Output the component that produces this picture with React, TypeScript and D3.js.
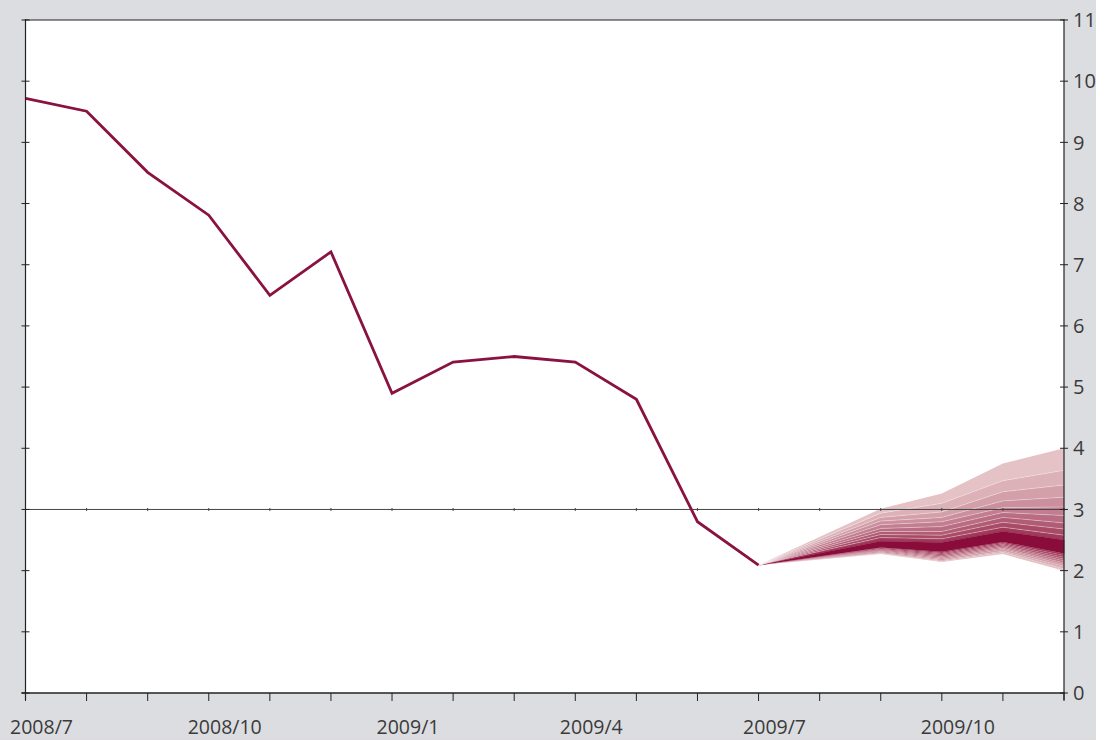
import React from "react";
import * as d3 from "d3";

const months = [
  "2008/7", "2008/8", "2008/9", "2008/10", "2008/11", "2008/12",
  "2009/1", "2009/2", "2009/3", "2009/4", "2009/5", "2009/6",
  "2009/7", "2009/8", "2009/9", "2009/10", "2009/11", "2009/12",
];
const labeledMonths = ["2008/7", "2008/10", "2009/1", "2009/4", "2009/7", "2009/10"];
const actual = [9.72, 9.51, 8.51, 7.81, 6.5, 7.21, 4.9, 5.41, 5.5, 5.41, 4.8, 2.8, 2.09];
const yTicks = [0, 1, 2, 3, 4, 5, 6, 7, 8, 9, 10, 11];

// Fan chart months and band boundaries (top edge -> dark band top)
const fanMonths = ["2009/7", "2009/9", "2009/10", "2009/11", "2009/12"];
const fanUpper = [
  [2.09, 2.09, 2.09, 2.09, 2.09, 2.09, 2.09, 2.09, 2.09, 2.09],
  [3.01, 2.94, 2.87, 2.81, 2.75, 2.69, 2.64, 2.59, 2.54, 2.48],
  [3.26, 3.1, 2.96, 2.87, 2.8, 2.72, 2.64, 2.58, 2.52, 2.46],
  [3.75, 3.47, 3.29, 3.14, 3.03, 2.95, 2.87, 2.79, 2.71, 2.64],
  [4.0, 3.64, 3.4, 3.2, 3.04, 2.9, 2.78, 2.68, 2.58, 2.5],
];
// dark band bottom -> bottom edge
const fanLower = [
  [2.09, 2.09, 2.09, 2.09, 2.09, 2.09, 2.09, 2.09, 2.09, 2.09],
  [2.38, 2.37, 2.355, 2.34, 2.33, 2.315, 2.3, 2.29, 2.28, 2.27],
  [2.31, 2.29, 2.27, 2.25, 2.23, 2.21, 2.19, 2.17, 2.155, 2.14],
  [2.47, 2.45, 2.43, 2.41, 2.39, 2.37, 2.35, 2.32, 2.3, 2.27],
  [2.28, 2.25, 2.22, 2.19, 2.16, 2.13, 2.1, 2.07, 2.03, 2.0],
];

const W = 1096;
const H = 740;
const left = 25.5;
const right = 1064;
const top = 20;
const bottom = 693;

export default function App() {
  const x = d3.scaleLinear().domain([0, months.length - 1]).range([left, right]);
  const y = d3.scaleLinear().domain([0, 11]).range([bottom, top]);
  const xi = (m: string) => x(months.indexOf(m));

  const line = d3
    .line<number>()
    .x((_, i) => x(i))
    .y((d) => y(d));

  const lightC = "#e4c2c5";
  const midC = "#a03a5a";
  const darkC = "#890c3a";
  const nUp = fanUpper[0].length - 1;
  const upColor = d3.scaleLinear<string>().domain([0, nUp - 1]).range([lightC, midC]).interpolate(d3.interpolateRgb);
  const nLo = fanLower[0].length - 1;
  const loColor = d3.scaleLinear<string>().domain([0, nLo - 1]).range([midC, lightC]).interpolate(d3.interpolateRgb);

  const area = (hi: number[], lo: number[]) =>
    d3
      .area<number>()
      .x((_, i) => xi(fanMonths[i]))
      .y0((_, i) => y(lo[i]))
      .y1((_, i) => y(hi[i]))(fanMonths.map((_, i) => i)) || "";

  const col = (arr: number[][], j: number) => arr.map((r) => r[j]);

  const bands: JSX.Element[] = [];
  for (let j = 0; j < nUp; j++) {
    bands.push(
      <path key={"u" + j} d={area(col(fanUpper, j), col(fanUpper, j + 1))} fill={upColor(j)} stroke="none" />
    );
  }
  bands.push(
    <path key="dark" d={area(col(fanUpper, nUp), col(fanLower, 0))} fill={darkC} stroke={darkC} strokeWidth={0.5} />
  );
  for (let j = 0; j < nLo; j++) {
    bands.push(
      <path key={"l" + j} d={area(col(fanLower, j), col(fanLower, j + 1))} fill={loColor(j)} stroke="none" />
    );
  }
  const sepLine = d3
    .line<number>()
    .x((_, i) => xi(fanMonths[i]))
    .y((d) => y(d));
  const seps: JSX.Element[] = [];
  for (let j = 1; j < nUp; j++) {
    seps.push(
      <path key={"s" + j} d={sepLine(col(fanUpper, j)) || ""} fill="none" stroke="#ffffff" strokeOpacity={0.4} strokeWidth={0.8} />
    );
  }

  const axisC = "#222";
  const textC = "#3a3a3a";
  const font = "'Open Sans', 'DejaVu Sans', sans-serif";

  return (
    <div style={{ position: "absolute", left: 0, top: 0 }}>
      <svg width={W} height={H} style={{ display: "block" }}>
        <rect x={0} y={0} width={W} height={H} fill="#dcdde0" />
        <rect x={left} y={top} width={right - left} height={bottom - top} fill="#ffffff" />

        {bands}
        {seps}

        {/* reference line at 3 */}
        <line x1={left} x2={right} y1={y(3)} y2={y(3)} stroke="#444" strokeWidth={1} />
        {months.map((m, i) => (
          <line key={"rt" + m} x1={x(i)} x2={x(i)} y1={y(3) - 1.5} y2={y(3) + 1.5} stroke="#444" strokeWidth={1} />
        ))}

        <path d={line(actual) || ""} fill="none" stroke="#8a1240" strokeWidth={2.8} strokeLinejoin="miter" />

        {/* frame */}
        <line x1={left} x2={right} y1={top} y2={top} stroke={axisC} strokeWidth={1.2} />
        <line x1={left} x2={left} y1={top - 1} y2={bottom + 7} stroke={axisC} strokeWidth={1.2} />
        <line x1={right} x2={right} y1={top - 1} y2={bottom + 7} stroke={axisC} strokeWidth={1.2} />
        <line x1={left - 4} x2={right + 1} y1={bottom} y2={bottom} stroke={axisC} strokeWidth={1.4} />

        {yTicks.map((t) => (
          <g key={"yt" + t}>
            <line x1={left - 4} x2={left + 4} y1={y(t)} y2={y(t)} stroke={axisC} strokeWidth={1} />
            <line x1={right - 4} x2={right + 4} y1={y(t)} y2={y(t)} stroke={axisC} strokeWidth={1} />
            <text x={right + 9} y={y(t)} dy="0.36em" fontFamily={font} fontSize={20} fill={textC}>
              {t}
            </text>
          </g>
        ))}

        {months.map((m, i) => (
          <line key={"xt" + m} x1={x(i)} x2={x(i)} y1={bottom} y2={bottom + 8} stroke={axisC} strokeWidth={1} />
        ))}
        {labeledMonths.map((m) => (
          <text key={"xl" + m} x={xi(m) + 16} y={734} textAnchor="middle" fontFamily={font} fontSize={19.5} fill={textC}>
            {m}
          </text>
        ))}
      </svg>
    </div>
  );
}
